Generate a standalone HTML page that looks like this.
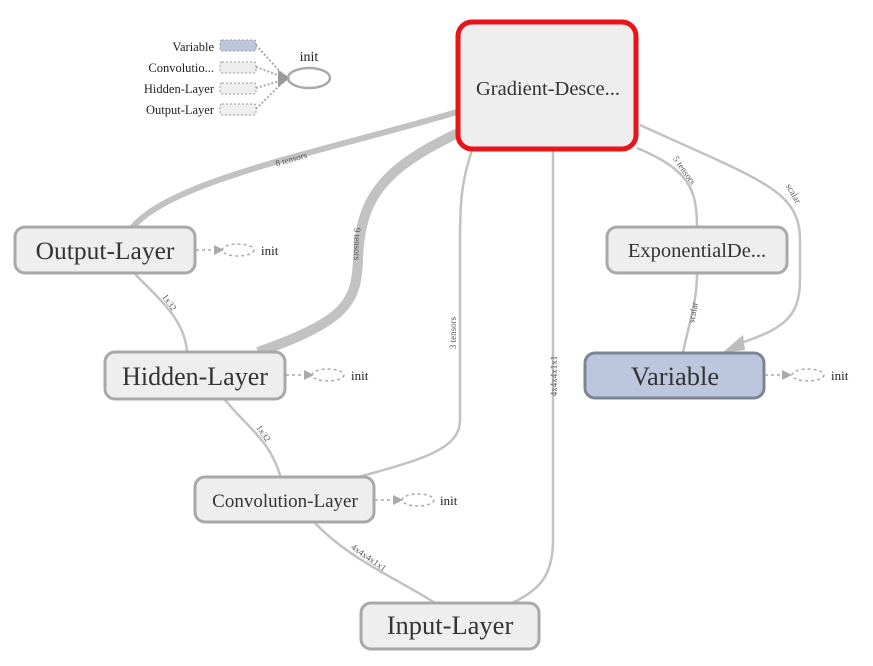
<!DOCTYPE html>
<html><head><meta charset="utf-8"><style>
body{margin:0;background:#fff;}
svg{display:block;font-family:"Liberation Serif",serif;}
</style></head><body>
<svg width="873" height="666" viewBox="0 0 873 666" xmlns="http://www.w3.org/2000/svg">
<g fill="none" stroke="#c2c2c2">
 <path d="M457,112 C330,150 170,180 132,228" stroke-width="6"/>
 <path d="M458,133 C380,170 360,200 358,260 C356,300 350,320 258,352" stroke-width="10"/>
 <path d="M472,150 C462,180 460,200 460,240 L460,420 C460,450 420,460 355,478" stroke-width="2.5"/>
 <path d="M553,150 L553,540 C553,575 540,590 512,603" stroke-width="2.5"/>
 <path d="M637,148 C690,170 697,190 697,228" stroke-width="2.5"/>
 <path d="M640,125 C760,180 800,190 800,240 L800,280 C800,320 780,330 735,345" stroke-width="2.5"/>
 <path d="M683,352 C690,320 697,300 697,274" stroke-width="2.5"/>
 <path d="M135,274 C160,300 185,320 187,352" stroke-width="2.5"/>
 <path d="M225,400 C250,430 270,440 281,478" stroke-width="2.5"/>
 <path d="M315,523 C350,560 400,580 435,603" stroke-width="2.5"/>
</g>
<polygon points="722,353 743,335 745,350" fill="#bdbdbd"/>
<g font-size="9" fill="#555">
 <text transform="translate(292,162) rotate(-16)" text-anchor="middle">8 tensors</text>
 <text transform="translate(354,244) rotate(90)" text-anchor="middle">9 tensors</text>
 <text transform="translate(456,333) rotate(-90)" text-anchor="middle">3 tensors</text>
 <text transform="translate(557,376) rotate(-90)" text-anchor="middle">4x4x4x1x1</text>
 <text transform="translate(682,172) rotate(55)" text-anchor="middle">5 tensors</text>
 <text transform="translate(791,195) rotate(60)" text-anchor="middle">scalar</text>
 <text transform="translate(696,313) rotate(-80)" text-anchor="middle">scalar</text>
 <text transform="translate(167,304) rotate(55)" text-anchor="middle">1x32</text>
 <text transform="translate(261,435) rotate(55)" text-anchor="middle">1x32</text>
 <text transform="translate(367,560) rotate(35)" text-anchor="middle">4x4x4x1x1</text>
</g>
<g stroke="#a8a8a8" stroke-width="3" fill="#eeeeee">
 <rect x="15" y="227" width="180" height="46" rx="10"/>
 <rect x="105" y="352" width="180" height="47" rx="10"/>
 <rect x="195" y="477" width="179" height="45" rx="10"/>
 <rect x="361" y="603" width="178" height="46" rx="10"/>
 <rect x="607" y="227" width="180" height="46" rx="10"/>
</g>
<rect x="585" y="353" width="179" height="45" rx="10" fill="#bcc7de" stroke="#7d8595" stroke-width="3"/>
<rect x="458" y="22" width="178" height="127" rx="14" fill="#eeeeee" stroke="#e8141a" stroke-width="5"/>
<g fill="#333" text-anchor="middle">
 <text x="548" y="95" font-size="20.5">Gradient-Desce...</text>
 <text x="105" y="259" font-size="25.5">Output-Layer</text>
 <text x="195" y="385" font-size="26">Hidden-Layer</text>
 <text x="285" y="507" font-size="19">Convolution-Layer</text>
 <text x="450" y="634" font-size="26.5">Input-Layer</text>
 <text x="697" y="257" font-size="20.5">ExponentialDe...</text>
 <text x="675" y="385" font-size="26.5">Variable</text>
</g>
<g stroke="#aaa" stroke-width="1.5" stroke-dasharray="3,3" fill="none">
 <line x1="196" y1="250" x2="218" y2="250"/>
 <ellipse cx="238" cy="250" rx="16" ry="6"/>
 <line x1="286" y1="375" x2="308" y2="375"/>
 <ellipse cx="328" cy="375" rx="16" ry="6"/>
 <line x1="375" y1="500" x2="396" y2="500"/>
 <ellipse cx="418" cy="500" rx="16" ry="6"/>
 <line x1="765" y1="375" x2="786" y2="375"/>
 <ellipse cx="808" cy="375" rx="16" ry="6"/>
</g>
<g fill="#aaa">
 <polygon points="214,245 224,250 214,255"/>
 <polygon points="304,370 314,375 304,380"/>
 <polygon points="393,495 403,500 393,505"/>
 <polygon points="782,370 792,375 782,380"/>
</g>
<g font-size="13" fill="#222">
 <text x="261" y="255">init</text>
 <text x="351" y="380">init</text>
 <text x="440" y="505">init</text>
 <text x="831" y="380">init</text>
</g>
<g font-size="12.5" fill="#222" text-anchor="end">
 <text x="214" y="51">Variable</text>
 <text x="214" y="72">Convolutio...</text>
 <text x="214" y="93">Hidden-Layer</text>
 <text x="214" y="114">Output-Layer</text>
</g>
<g stroke="#999" stroke-width="1" stroke-dasharray="2,2">
 <rect x="220" y="40" width="36" height="11" rx="2" fill="#bcc7de"/>
 <rect x="220" y="62" width="36" height="11" rx="2" fill="#eee"/>
 <rect x="220" y="83" width="36" height="11" rx="2" fill="#eee"/>
 <rect x="220" y="104" width="36" height="11" rx="2" fill="#eee"/>
</g>
<g stroke="#aaa" stroke-width="2" stroke-dasharray="2,2" fill="none">
 <line x1="256" y1="45" x2="283" y2="75"/>
 <line x1="256" y1="67" x2="283" y2="77"/>
 <line x1="256" y1="88" x2="283" y2="80"/>
 <line x1="256" y1="109" x2="283" y2="82"/>
</g>
<polygon points="278,70 290,78 278,87" fill="#999"/>
<ellipse cx="309" cy="78" rx="21" ry="10" fill="none" stroke="#aaa" stroke-width="2.5"/>
<text x="309" y="61" font-size="14" fill="#222" text-anchor="middle">init</text>
</svg>
</body></html>
